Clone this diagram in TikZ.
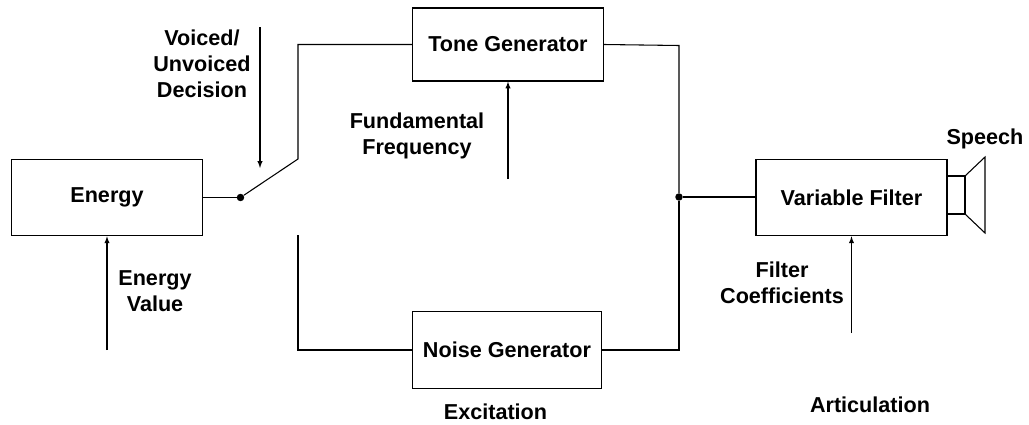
\documentclass[tikz,border=0pt]{standalone}
\usepackage{fontspec}
\setmainfont{Liberation Sans}
\tikzset{
  block/.style={draw, line width=0.8pt, minimum width=143.25pt, minimum height=57.4pt, inner sep=0pt, font=\fontsize{16.2}{19.5}\selectfont\bfseries},
  tag/.style={align=center, inner sep=0pt, font=\fontsize{16.2}{19.5}\selectfont\bfseries},
  wire/.style={line width=0.8pt},
  junction/.style={circle, fill=black, inner sep=0pt, minimum size=5.6pt}
}
\begin{document}
\begin{tikzpicture}[x=0.75pt, y=-0.75pt]
                  \useasboundingbox (0,0) rectangle (1029,425);
                  \node [block] (energy) at (107,197.5) {Energy};
                  \node [block, minimum height=54.75pt] (tone) at (508,44.5) {Tone Generator};
                  \node [block, minimum width=141.75pt] (noise) at (507,350) {Noise Generator};
                  \node [block] (filter) at (851.5,197.5) {Variable Filter};
                  \node [junction] (switch) at (240.5,197.5) {};
                  \node [junction] (merge) at (679,197) {};
                  \coordinate (upperknee) at (298,159);
                  \coordinate (uppercorner) at (298,44.5);
                  \coordinate (lowerend) at (298,235);
                  \coordinate (lowercorner) at (298,350);
                  \coordinate (tonecorner) at (679,45.5);
                  \coordinate (noisecorner) at (679,350);
                  \draw[wire] (energy) -- (switch);
                  \draw[wire] (switch) -- (upperknee) -- (uppercorner) -- (tone.west);
                  \draw[wire] (lowerend) -- (lowercorner) -- (noise.west);
                  \draw[wire] (tone.east) -- (tonecorner) -- (merge);
                  \draw[wire] (noise.east) -- (noisecorner) -- (merge);
                  \draw[wire] (merge) -- (filter.west |- merge);
                  % loudspeaker
                  \coordinate (neckA) at (filter.east |- 0,176);
                  \coordinate (neckB) at (filter.east |- 0,214);
                  \coordinate (hornA) at (965,176);
                  \coordinate (hornB) at (965,214);
                  \coordinate (mouthA) at (985,157);
                  \coordinate (mouthB) at (985,233);
                  \draw[wire] (neckA) -- (hornA) -- (hornB) -- (neckB);
                  \draw[wire] (hornA) -- (mouthA) -- (mouthB) -- (hornB);
                  % control inputs
                  \coordinate (decisionstart) at (260,27);
                  \coordinate (decisionend) at (260,168);
                  \coordinate (valuestart) at (107,350);
                  \coordinate (fundstart) at (508,179);
                  \coordinate (coeffstart) at (851.5,333);
                  \draw[wire, -latex] (decisionstart) -- (decisionend);
                  \draw[wire, -latex] (valuestart) -- (energy.south);
                  \draw[wire, -latex] (fundstart) -- (tone.south);
                  \draw[wire, -latex] (coeffstart) -- (filter.south);
                  % labels
                  \node [tag] (decisionlabel) at (202,64) {Voiced/\\Unvoiced\\Decision};
                  \node [tag] (valuelabel) at (155,291) {Energy\\Value};
                  \node [tag] (fundlabel) at (417,135.5) {Fundamental\\Frequency};
                  \node [tag] (coefflabel) at (782,283) {Filter\\Coefficients};
                  \node [tag] (speechlabel) at (985,139) {Speech};
                  \node [tag] (excitationlabel) at (495.5,411.5) {Excitation};
                  \node [tag] (articulationlabel) at (870,405) {Articulation};
              \end{tikzpicture}
\end{document}
